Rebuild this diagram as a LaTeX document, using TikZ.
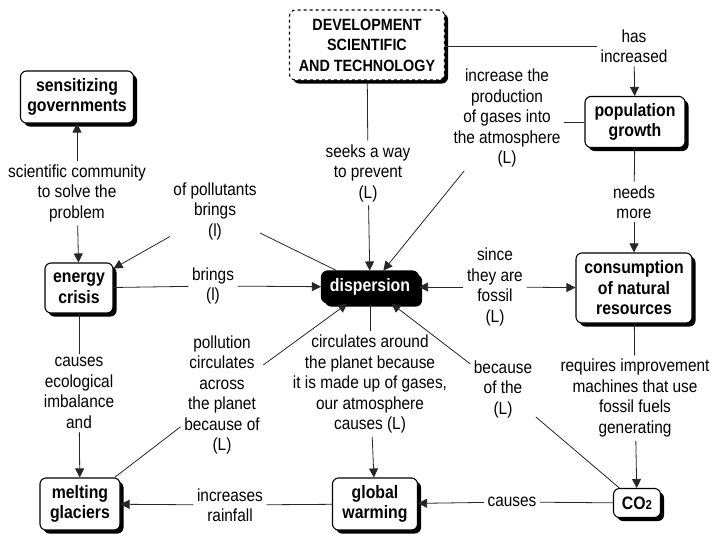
\documentclass[tikz,border=0pt]{standalone}
\usepackage{fontspec}
\setmainfont[FakeStretch=0.88]{Liberation Sans}
\usetikzlibrary{shadows,arrows.meta}
\begin{document}
\begin{tikzpicture}[x=1pt,y=-1pt,
  concept/.style={draw=black,line width=1.1pt,rounded corners=6pt,fill=white,
    drop shadow={shadow xshift=3.5pt,shadow yshift=-3.5pt,opacity=1,fill=black},
    align=center,inner sep=0pt,font=\fontsize{18}{20.5}\selectfont\bfseries},
  lbl/.style={align=center,inner sep=3.5pt,font=\fontsize{17.5}{20.5}\selectfont},
  ln/.style={line width=0.8pt,draw=black!85},
  arr/.style={ln,-{Triangle[length=9pt,width=9pt]}}]
\useasboundingbox (0,0) rectangle (711,533);
\fill[white] (0,0) rectangle (711,533);
% concepts
\node[concept,dashed,minimum width=155pt,minimum height=70pt,font=\fontsize{16.3}{20.5}\selectfont\bfseries] (dev) at (367,45) {DEVELOPMENT\\SCIENTIFIC\\AND TECHNOLOGY};
\node[concept,minimum width=113pt,minimum height=52pt] (sens) at (77,97) {sensitizing\\governments};
\node[concept,minimum width=100pt,minimum height=51pt] (pop) at (635,122) {population\\growth};
\node[concept,minimum width=68pt,minimum height=50pt] (energy) at (79,288) {energy\\crisis};
\node[concept,fill=black,text=white,minimum width=97pt,minimum height=32pt] (disp) at (370,287) {dispersion};
\node[concept,minimum width=116pt,minimum height=70pt] (cons) at (634,288) {consumption\\of natural\\resources};
\node[concept,minimum width=80pt,minimum height=52pt] (melt) at (80,504) {melting\\glaciers};
\node[concept,minimum width=85pt,minimum height=52pt] (glob) at (375,504) {global\\warming};
\node[concept,minimum width=47pt,minimum height=29pt] (co2) at (637,503) {CO{\fontsize{13}{13}\selectfont 2}};
% linking phrases
\node[lbl] (sci) at (77,193) {scientific community\\to solve the\\problem};
\node[lbl] (poll) at (215,211) {of pollutants\\brings\\(l)};
\node[lbl] (brings) at (213,286) {brings\\(l)};
\node[lbl] (seeks) at (368,173) {seeks a way\\to prevent\\(L)};
\node[lbl] (hasinc) at (634,46) {has\\increased};
\node[lbl] (incr) at (507,118) {increase the\\production\\of gases into\\the atmosphere\\(L)};
\node[lbl] (needs) at (634,202) {needs\\more};
\node[lbl] (since) at (495,287) {since\\they are\\fossil\\(L)};
\node[lbl] (req) at (635,398) {requires improvement\\machines that use\\fossil fuels\\generating};
\node[lbl] (because) at (503,389) {because\\of the\\(L)};
\node[lbl] (causes) at (512,502) {causes};
\node[lbl] (circ) at (370,384) {circulates around\\the planet because\\it is made up of gases,\\our atmosphere\\causes (L)};
\node[lbl] (pollc) at (222,395) {pollution\\circulates\\across\\the planet\\because of\\(L)};
\node[lbl] (ecol) at (79,393) {causes\\ecological\\imbalance\\and};
\node[lbl] (rain) at (230,505) {increases\\rainfall};
% connectors
\draw[arr] (sci) -- (sens);
\draw[arr] (sci) -- (energy);
\draw[ln] (disp) -- (poll);
\draw[arr] (poll) -- (energy);
\draw[ln] (energy) -- (brings);
\draw[arr] (brings) -- (disp);
\draw[ln] (dev) -- (seeks);
\draw[arr] (seeks) -- (disp);
\draw[ln] (dev.east |- hasinc) -- (hasinc);
\draw[arr] (hasinc) -- (pop);
\draw[ln] (pop.west) -- (pop.west -| incr.east);
\draw[arr] (incr) -- (disp);
\draw[ln] (pop) -- (needs);
\draw[arr] (needs) -- (cons);
\draw[arr] (since) -- (disp);
\draw[arr] (since) -- (cons);
\draw[ln] (cons) -- (req);
\draw[arr] (req) -- (co2);
\draw[ln] (co2) -- (because);
\draw[arr] (because) -- (disp);
\draw[ln] (co2) -- (causes);
\draw[arr] (causes) -- (glob);
\draw[ln] (disp) -- (circ);
\draw[arr] (circ) -- (glob);
\draw[ln] (melt) -- (pollc);
\draw[arr] (pollc) -- (disp);
\draw[ln] (energy) -- (ecol);
\draw[arr] (ecol) -- (melt);
\draw[ln] (glob) -- (rain);
\draw[arr] (rain) -- (melt);
\end{tikzpicture}
\end{document}
